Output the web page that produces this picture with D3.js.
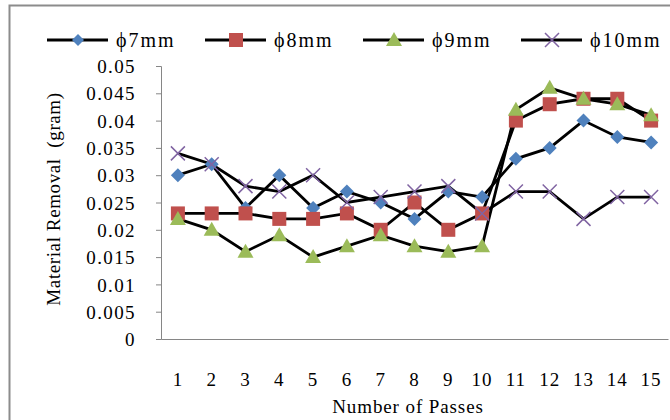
<!DOCTYPE html>
<html>
<head>
<meta charset="utf-8">
<script src="https://cdn.jsdelivr.net/npm/d3@7"></script>
<style>
body { margin: 0; background: #fff; }
text { font-family: "Liberation Serif", "Times New Roman", serif; fill: #000; }
</style>
</head>
<body>
<svg width="670" height="420"></svg>
<script>
var passes = ["1","2","3","4","5","6","7","8","9","10","11","12","13","14","15"];
var seriesNames = ["\u03d57mm", "\u03d58mm", "\u03d59mm", "\u03d510mm"];
var d7  = [0.030, 0.032, 0.024, 0.030, 0.024, 0.027, 0.025, 0.022, 0.027, 0.026, 0.033, 0.035, 0.040, 0.037, 0.036];
var d8  = [0.023, 0.023, 0.023, 0.022, 0.022, 0.023, 0.020, 0.025, 0.020, 0.023, 0.040, 0.043, 0.044, 0.044, 0.040];
var d9  = [0.022, 0.020, 0.016, 0.019, 0.015, 0.017, 0.019, 0.017, 0.016, 0.017, 0.042, 0.046, 0.044, 0.043, 0.041];
var d10 = [0.034, 0.032, 0.028, 0.027, 0.030, 0.025, 0.026, 0.027, 0.028, 0.023, 0.027, 0.027, 0.022, 0.026, 0.026];
var yTicks = [0, 0.005, 0.01, 0.015, 0.02, 0.025, 0.03, 0.035, 0.04, 0.045, 0.05];

var svg = d3.select("svg");
var colors = ["#4f81bd", "#c0504d", "#9bbb59", "#8064a2"],
    shapes = ["diamond", "square", "triangle", "cross"];
var series = [d7, d8, d9, d10].map(function(v, i) {
  return {name: seriesNames[i], values: v, color: colors[i], shape: shapes[i]};
});

// outer frame
svg.append("rect")
    .attr("x", 9.5).attr("y", 5.5)
    .attr("width", 700).attr("height", 450)
    .attr("fill", "none").attr("stroke", "#8c8c8c").attr("stroke-width", 2);

var x = d3.scaleBand().domain(passes).range([161, 668]),
    y = d3.scaleLinear().domain([0, 0.05]).range([339, 66]);

var yAxis = svg.append("g")
    .attr("transform", "translate(161,0)")
    .call(d3.axisLeft(y).tickValues(yTicks).tickSize(5).tickPadding(20)
      .tickFormat(function(d) { return d3.format("")(+d.toFixed(3)); }));
yAxis.select(".domain").attr("stroke", "#868686");
yAxis.selectAll("line").attr("stroke", "#868686");
yAxis.selectAll("text").attr("font-size", 19).attr("font-family", "Liberation Serif")
    .attr("letter-spacing", 1.4).attr("dy", "0.35em");

var xAxis = svg.append("g")
    .attr("transform", "translate(0,339)")
    .call(d3.axisBottom(x).tickSize(0).tickPadding(34));
xAxis.select(".domain").attr("stroke", "#868686");
xAxis.selectAll("text").attr("font-size", 19).attr("font-family", "Liberation Serif")
    .attr("letter-spacing", 1);

svg.append("text")
    .attr("x", 408).attr("y", 413)
    .attr("text-anchor", "middle").attr("font-size", 19)
    .attr("letter-spacing", 0.9)
    .text("Number of Passes");

svg.append("text")
    .attr("transform", "translate(60,199) rotate(-90)")
    .attr("text-anchor", "middle").attr("font-size", 19)
    .attr("letter-spacing", 0.6)
    .attr("xml:space", "preserve")
    .text("Material Removal  (gram)");

function marker(sel, s, r) {
  if (s.shape === "diamond") {
    sel.append("path").attr("d", "M0,-" + r + "L" + r + ",0L0," + r + "L-" + r + ",0Z").attr("fill", s.color);
  } else if (s.shape === "square") {
    sel.append("rect").attr("x", -7).attr("y", -7).attr("width", 14).attr("height", 14).attr("fill", s.color);
  } else if (s.shape === "triangle") {
    sel.append("path").attr("d", "M0,-8L8,6L-8,6Z").attr("fill", s.color);
  } else {
    sel.append("path").attr("d", "M-7,-7L7,7M-7,7L7,-7").attr("stroke", s.color).attr("stroke-width", 1.5).attr("fill", "none");
  }
}

var line = d3.line()
    .x(function(d, i) { return x(passes[i]) + x.bandwidth() / 2; })
    .y(function(d) { return y(d); });

series.forEach(function(s) {
  svg.append("path")
      .datum(s.values)
      .attr("d", line)
      .attr("fill", "none").attr("stroke", "#000").attr("stroke-width", 2.8);
});
series.forEach(function(s) {
  s.values.forEach(function(v, i) {
    var g = svg.append("g")
        .attr("transform", "translate(" + (x(passes[i]) + x.bandwidth() / 2) + "," + y(v) + ")");
    marker(g, s, 7);
  });
});

// legend
var legX = [47, 205, 363, 521];
series.forEach(function(s, i) {
  var g = svg.append("g").attr("transform", "translate(" + legX[i] + ",40)");
  g.append("line").attr("x1", 0).attr("x2", 61).attr("y1", 0).attr("y2", 0)
      .attr("stroke", "#000").attr("stroke-width", 2.8);
  marker(g.append("g").attr("transform", "translate(31,0)"), s, 6);
  g.append("text").attr("x", 69).attr("y", 0).attr("dy", "0.35em")
      .attr("font-size", 20).attr("letter-spacing", 2).text(s.name);
});
</script>
</body>
</html>
